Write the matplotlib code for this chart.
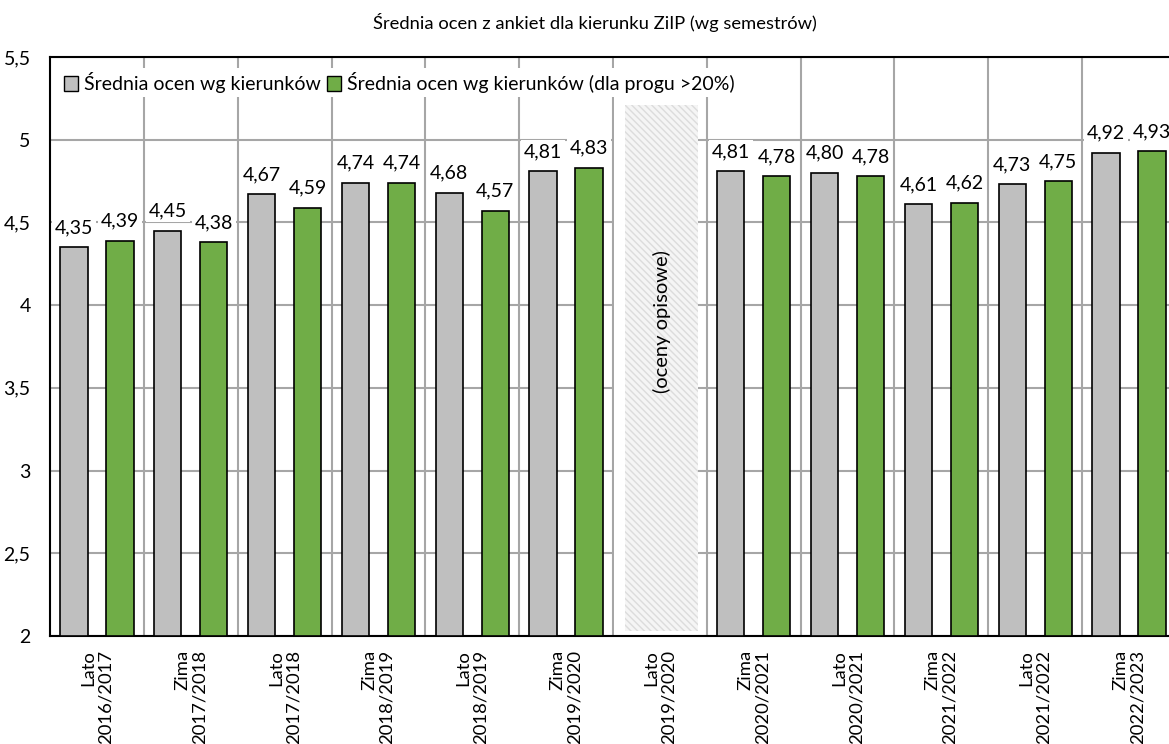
import matplotlib
matplotlib.use('Agg')
import matplotlib.pyplot as plt
from matplotlib.patches import Rectangle
import numpy as np

plt.rcParams['font.family'] = ['Lato', 'DejaVu Sans']
plt.rcParams['hatch.linewidth'] = 1.0

# Data
semesters = ['Lato\n2016/2017', 'Zima\n2017/2018', 'Lato\n2017/2018', 'Zima\n2018/2019',
             'Lato\n2018/2019', 'Zima\n2019/2020', 'Lato\n2019/2020', 'Zima\n2020/2021',
             'Lato\n2020/2021', 'Zima\n2021/2022', 'Lato\n2021/2022', 'Zima\n2022/2023']
avg_all = [4.35, 4.45, 4.67, 4.74, 4.68, 4.81, None, 4.81, 4.80, 4.61, 4.73, 4.92]
avg_20 = [4.39, 4.38, 4.59, 4.74, 4.57, 4.83, None, 4.78, 4.78, 4.62, 4.75, 4.93]
descriptive_idx = 6
descriptive_top = 5.21

gray = '#bfbfbf'
green = '#70ad47'

fig = plt.figure(figsize=(11.69, 7.44), dpi=100)
ax = fig.add_axes([50 / 1169, 108 / 744, 1126 / 1169, 579 / 744])

x = np.arange(len(semesters))
off = 0.245
w = 0.29

for i in x:
    if avg_all[i] is None:
        continue
    ax.bar(i - off, avg_all[i] - 2, bottom=2, width=w, color=gray, edgecolor='black', linewidth=1.2, zorder=3)
    ax.bar(i + off, avg_20[i] - 2, bottom=2, width=w, color=green, edgecolor='black', linewidth=1.2, zorder=3)
    for xx, v in [(i - off, avg_all[i]), (i + off, avg_20[i])]:
        ax.annotate(f'{v:.2f}'.replace('.', ','), (xx, v), xytext=(0, 8), textcoords='offset points',
                    ha='center', va='bottom', fontsize=14, zorder=4,
                    bbox=dict(facecolor='white', edgecolor='none', pad=2))

# "oceny opisowe" block
i = descriptive_idx
ax.add_patch(Rectangle((i - 0.49, 2.0), 0.9, 3.5, facecolor='white', edgecolor='none', zorder=2))
ax.add_patch(Rectangle((i - 0.37, 2.03), 0.78, descriptive_top - 2.03, facecolor='#f5f5f5',
                       edgecolor='#dcdcdc', hatch='\\\\\\\\\\', linewidth=0, zorder=2.5))
ax.text(i + 0.02, 3.9, '(oceny opisowe)', rotation=90, ha='center', va='center', fontsize=14.5, zorder=4)

ax.set_xlim(-0.5, len(semesters) - 0.5)
ax.set_ylim(2, 5.5)
ax.set_yticks(np.arange(2, 5.51, 0.5))
ax.set_yticklabels(['2', '2,5', '3', '3,5', '4', '4,5', '5', '5,5'], fontsize=14)
ax.set_xticks(x)
ax.set_xticklabels(semesters, rotation=90, fontsize=13.3, linespacing=1.1, multialignment='right')
ax.set_xticks(x[:-1] + 0.5, minor=True)
ax.tick_params(axis='both', which='both', length=0)
ax.tick_params(axis='x', pad=10)
ax.tick_params(axis='y', pad=14)

ax.grid(axis='y', which='major', color='#a6a6a6', linewidth=1.5, zorder=0)
ax.grid(axis='x', which='minor', color='#a6a6a6', linewidth=1.5, zorder=0)
ax.set_axisbelow(True)

for s in ['left', 'bottom', 'top']:
    ax.spines[s].set_linewidth(1.5)
    ax.spines[s].set_color('black')
ax.spines['right'].set_visible(False)

h1 = Rectangle((0, 0), 1, 1, facecolor=gray, edgecolor='black', linewidth=1)
h2 = Rectangle((0, 0), 1, 1, facecolor=green, edgecolor='black', linewidth=1)
leg = ax.legend([h1, h2], ['Średnia ocen wg kierunków', 'Średnia ocen wg kierunków (dla progu >20%)'],
                loc='upper left', bbox_to_anchor=(0.0, 0.997), ncol=2, frameon=True, fontsize=14,
                handlelength=0.75, handleheight=0.75, handletextpad=0.3, columnspacing=0.3,
                borderpad=0.2, fancybox=False)
leg.get_frame().set_edgecolor('none')
leg.get_frame().set_facecolor('white')
leg.get_frame().set_alpha(1)
leg.set_zorder(5)

fig.text(595 / 1169, 1 - 22 / 744, 'Średnia ocen z ankiet dla kierunku ZiIP (wg semestrów)',
         ha='center', va='center', fontsize=13.2)

fig.savefig('out.png', dpi=100)
